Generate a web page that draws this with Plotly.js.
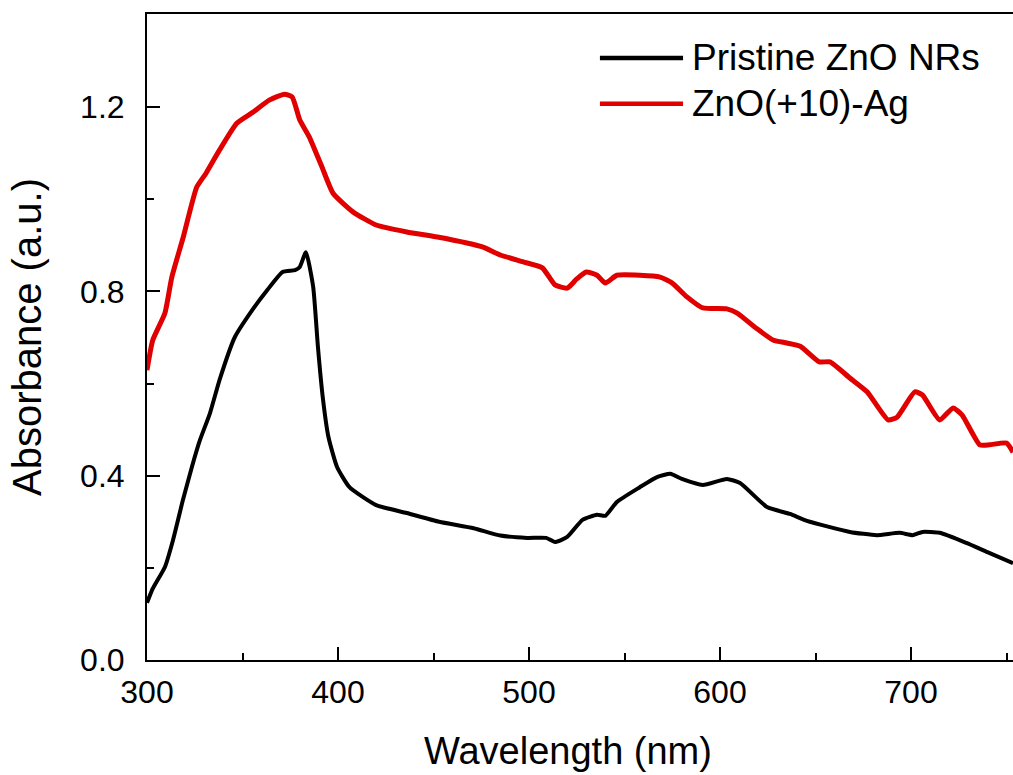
<!DOCTYPE html>
<html>
<head>
<meta charset="utf-8">
<script src="https://cdn.plot.ly/plotly-3.0.1.min.js"></script>
<style>
  html, body { margin: 0; padding: 0; background: #ffffff; }
  #chart { width: 1013px; height: 775px; }
</style>
</head>
<body>
<div id="chart"></div>
<script>
// ---- Data ----
const seriesNames = ["Pristine ZnO NRs", "ZnO(+10)-Ag"];
const seriesColors = ["#000000", "#e00000"];

const pristineWavelength = [300, 303, 309.4, 313.6, 318.8, 323.5, 327.7, 333, 338, 346, 354, 363, 371, 377.5, 380, 383.2, 387, 389.5, 392, 395, 399.5, 406, 420, 436, 453, 471, 485, 499, 509, 513.6, 520, 528, 535.6, 540, 546, 558, 567, 574, 580, 591, 603.6, 610.5, 624.6, 636.6, 645.5, 668, 682, 694, 701, 706, 715, 729, 740, 753.4];
const pristineAbs = [0.124, 0.155, 0.202, 0.26, 0.347, 0.419, 0.477, 0.536, 0.608, 0.701, 0.753, 0.803, 0.842, 0.846, 0.853, 0.885, 0.81, 0.679, 0.571, 0.484, 0.419, 0.375, 0.336, 0.319, 0.300, 0.286, 0.270, 0.265, 0.265, 0.256, 0.267, 0.304, 0.315, 0.313, 0.343, 0.375, 0.397, 0.404, 0.393, 0.380, 0.393, 0.384, 0.332, 0.317, 0.302, 0.278, 0.271, 0.276, 0.271, 0.278, 0.276, 0.254, 0.234, 0.210];

const agWavelength = [300, 303, 309.4, 313, 319, 326, 331, 338, 347, 355.5, 364, 372, 376, 380, 385, 391.6, 397.4, 408, 420, 436, 452, 467.5, 476, 485, 497, 507, 513.6, 520, 525, 530, 535.6, 540, 546, 558, 568.6, 575, 582.7, 591, 603.6, 609, 619, 628, 635, 642, 652, 657.6, 668, 677, 688, 692.7, 702, 706, 715, 722, 726.7, 736, 741, 750, 753.4];
const agAbs = [0.629, 0.694, 0.753, 0.831, 0.918, 1.026, 1.057, 1.107, 1.165, 1.189, 1.215, 1.228, 1.222, 1.172, 1.135, 1.07, 1.013, 0.972, 0.944, 0.929, 0.918, 0.905, 0.896, 0.879, 0.864, 0.851, 0.814, 0.807, 0.827, 0.842, 0.835, 0.818, 0.835, 0.835, 0.831, 0.818, 0.788, 0.764, 0.762, 0.753, 0.720, 0.694, 0.688, 0.681, 0.647, 0.647, 0.612, 0.582, 0.521, 0.527, 0.582, 0.575, 0.521, 0.547, 0.532, 0.467, 0.467, 0.471, 0.451];

const xTickVals = [300, 400, 500, 600, 700];
const yTickVals = [0.0, 0.4, 0.8, 1.2];
const xTitle = "Wavelength (nm)";
const yTitle = "Absorbance (a.u.)";

// ---- Chart ----
const FONT = "Liberation Sans, Arial, sans-serif";

const traces = [
  { x: pristineWavelength, y: pristineAbs, name: seriesNames[0], type: "scatter", mode: "lines",
    line: { color: seriesColors[0], width: 4, shape: "spline", smoothing: 0.5 } },
  { x: agWavelength, y: agAbs, name: seriesNames[1], type: "scatter", mode: "lines",
    line: { color: seriesColors[1], width: 5, shape: "spline", smoothing: 0.5 } }
];

// manual legend (long line samples as in the reference)
const legendY = [0.932, 0.861];
const shapes = legendY.map((yy, i) => ({
  type: "line", xref: "paper", yref: "paper",
  x0: 0.523, x1: 0.619, y0: yy, y1: yy,
  line: { color: seriesColors[i], width: 4.5 }
}));
const annotations = legendY.map((yy, i) => ({
  xref: "paper", yref: "paper", x: 0.627, y: yy,
  xanchor: "left", yanchor: "middle", showarrow: false,
  text: seriesNames[i],
  font: { family: FONT, size: 37, color: "#000000" }
}));
// x-axis title (placed as in the reference, slightly left of plot-area centre)
annotations.push({
  xref: "paper", yref: "paper", x: 0.486, y: -0.177,
  xanchor: "center", yanchor: "bottom", showarrow: false,
  text: xTitle,
  font: { family: FONT, size: 38, color: "#000000" }
});

const layout = {
  width: 1013, height: 775,
  margin: { l: 147, r: 0, t: 14, b: 115 },
  paper_bgcolor: "#ffffff", plot_bgcolor: "#ffffff",
  showlegend: false,
  font: { family: FONT, color: "#000000" },
  xaxis: {
    range: [300, 753.4],
    tickvals: xTickVals,
    ticks: "inside", ticklen: 13, tickwidth: 2, tickcolor: "#000",
    minor: { dtick: 50, ticks: "inside", ticklen: 7, tickwidth: 2, tickcolor: "#000", showgrid: false },
    showline: true, linecolor: "#000", linewidth: 2, mirror: true,
    showgrid: false, zeroline: false,
    tickfont: { family: FONT, size: 32, color: "#000" },
    ticklabelstandoff: 3
  },
  yaxis: {
    range: [0, 1.402],
    tickvals: yTickVals, tickformat: ".1f",
    ticks: "inside", ticklen: 13, tickwidth: 2, tickcolor: "#000",
    minor: { dtick: 0.2, ticks: "inside", ticklen: 7, tickwidth: 2, tickcolor: "#000", showgrid: false },
    showline: true, linecolor: "#000", linewidth: 2, mirror: false,
    showgrid: false, zeroline: false,
    tickfont: { family: FONT, size: 32, color: "#000" },
    ticklabelstandoff: 14,
    title: { text: yTitle, font: { family: FONT, size: 40, color: "#000" }, standoff: 26 }
  },
  shapes: shapes,
  annotations: annotations
};

Plotly.newPlot("chart", traces, layout, { displayModeBar: false, staticPlot: true });
</script>
</body>
</html>
